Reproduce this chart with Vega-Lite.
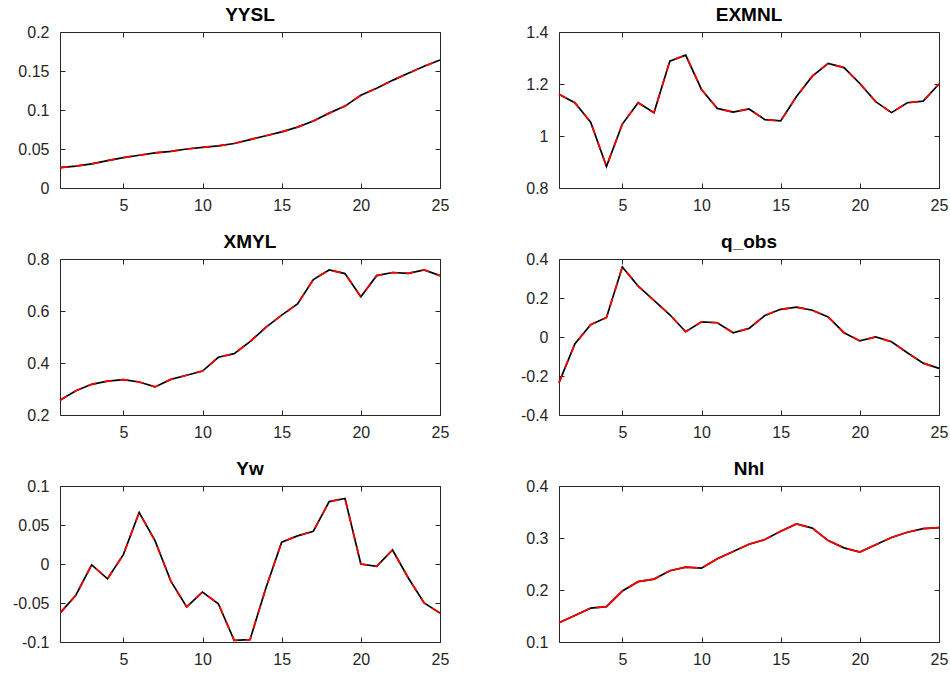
{
  "$schema": "https://vega.github.io/schema/vega-lite/v6.json",
  "background": "white",
  "padding": {"left": 12, "top": 5, "right": 5, "bottom": 5},
  "data": {"values": [
    {"t":1,"YYSL":0.026,"EXMNL":1.161,"XMYL":0.257,"q_obs":-0.234,"Yw":-0.063,"Nhl":0.137},
    {"t":2,"YYSL":0.028,"EXMNL":1.128,"XMYL":0.293,"q_obs":-0.036,"Yw":-0.040,"Nhl":0.151},
    {"t":3,"YYSL":0.031,"EXMNL":1.053,"XMYL":0.318,"q_obs":0.063,"Yw":-0.001,"Nhl":0.165},
    {"t":4,"YYSL":0.035,"EXMNL":0.883,"XMYL":0.330,"q_obs":0.100,"Yw":-0.019,"Nhl":0.168},
    {"t":5,"YYSL":0.039,"EXMNL":1.046,"XMYL":0.336,"q_obs":0.359,"Yw":0.012,"Nhl":0.198},
    {"t":6,"YYSL":0.042,"EXMNL":1.128,"XMYL":0.327,"q_obs":0.261,"Yw":0.066,"Nhl":0.216},
    {"t":7,"YYSL":0.045,"EXMNL":1.090,"XMYL":0.308,"q_obs":0.188,"Yw":0.030,"Nhl":0.221},
    {"t":8,"YYSL":0.047,"EXMNL":1.288,"XMYL":0.337,"q_obs":0.114,"Yw":-0.022,"Nhl":0.237},
    {"t":9,"YYSL":0.050,"EXMNL":1.311,"XMYL":0.353,"q_obs":0.027,"Yw":-0.055,"Nhl":0.244},
    {"t":10,"YYSL":0.052,"EXMNL":1.179,"XMYL":0.369,"q_obs":0.078,"Yw":-0.036,"Nhl":0.242},
    {"t":11,"YYSL":0.054,"EXMNL":1.106,"XMYL":0.422,"q_obs":0.073,"Yw":-0.051,"Nhl":0.260},
    {"t":12,"YYSL":0.057,"EXMNL":1.092,"XMYL":0.436,"q_obs":0.022,"Yw":-0.098,"Nhl":0.274},
    {"t":13,"YYSL":0.062,"EXMNL":1.104,"XMYL":0.482,"q_obs":0.044,"Yw":-0.097,"Nhl":0.288},
    {"t":14,"YYSL":0.067,"EXMNL":1.063,"XMYL":0.537,"q_obs":0.110,"Yw":-0.031,"Nhl":0.297},
    {"t":15,"YYSL":0.072,"EXMNL":1.058,"XMYL":0.584,"q_obs":0.142,"Yw":0.028,"Nhl":0.313},
    {"t":16,"YYSL":0.078,"EXMNL":1.152,"XMYL":0.627,"q_obs":0.153,"Yw":0.036,"Nhl":0.327},
    {"t":17,"YYSL":0.086,"EXMNL":1.230,"XMYL":0.721,"q_obs":0.137,"Yw":0.042,"Nhl":0.319},
    {"t":18,"YYSL":0.096,"EXMNL":1.279,"XMYL":0.758,"q_obs":0.103,"Yw":0.080,"Nhl":0.295},
    {"t":19,"YYSL":0.105,"EXMNL":1.263,"XMYL":0.744,"q_obs":0.022,"Yw":0.084,"Nhl":0.281},
    {"t":20,"YYSL":0.119,"EXMNL":1.202,"XMYL":0.655,"q_obs":-0.020,"Yw":0.000,"Nhl":0.273},
    {"t":21,"YYSL":0.128,"EXMNL":1.132,"XMYL":0.736,"q_obs":0.000,"Yw":-0.003,"Nhl":0.287},
    {"t":22,"YYSL":0.138,"EXMNL":1.090,"XMYL":0.748,"q_obs":-0.024,"Yw":0.018,"Nhl":0.301},
    {"t":23,"YYSL":0.147,"EXMNL":1.128,"XMYL":0.745,"q_obs":-0.081,"Yw":-0.018,"Nhl":0.311},
    {"t":24,"YYSL":0.156,"EXMNL":1.134,"XMYL":0.758,"q_obs":-0.134,"Yw":-0.050,"Nhl":0.318},
    {"t":25,"YYSL":0.164,"EXMNL":1.200,"XMYL":0.736,"q_obs":-0.161,"Yw":-0.063,"Nhl":0.320}
  ]},
  "columns": 2,
  "spacing": {"row": 71, "column": 119},
  "bounds": "flush",
  "config": {
    "font": "Liberation Sans",
    "view": {"stroke": "#262626", "strokeWidth": 1},
    "title": {"fontSize": 19, "fontWeight": "bold", "color": "#000000", "anchor": "middle", "offset": -1, "font": "Liberation Sans"},
    "axis": {"grid": false, "domain": false, "tickColor": "#262626", "tickSize": -5, "tickWidth": 1, "labelColor": "#262626", "labelFontSize": 16, "labelFont": "Liberation Sans", "labelFlush": false, "labelOverlap": false, "title": null},
    "axisX": {"labelPadding": 14},
    "axisY": {"labelPadding": 16}
  },
  "concat": [
    {"title": "YYSL", "width": 380, "height": 156,
     "layer": [
      {"mark": {"type": "line", "color": "black", "strokeWidth": 1.7},
       "encoding": {"x": {"field": "t", "type": "quantitative", "scale": {"domain": [1, 25]}, "axis": {"orient": "bottom", "values": [5,10,15,20,25]}},
                    "y": {"field": "YYSL", "type": "quantitative", "scale": {"domain": [0, 0.2]}, "axis": {"orient": "left", "values": [0,0.05,0.1,0.15,0.2], "labelExpr": "datum.value + ''"}}}},
      {"mark": {"type": "line", "color": "red", "strokeWidth": 1.7, "strokeDash": [8, 8]},
       "encoding": {"x": {"field": "t", "type": "quantitative", "scale": {"domain": [1, 25]}, "axis": {"orient": "top", "values": [5,10,15,20,25], "labels": false, "minExtent": 0, "maxExtent": 0}},
                    "y": {"field": "YYSL", "type": "quantitative", "scale": {"domain": [0, 0.2]}, "axis": {"orient": "right", "values": [0,0.05,0.1,0.15,0.2], "labels": false, "minExtent": 0, "maxExtent": 0}}}}
     ],
     "resolve": {"axis": {"x": "independent", "y": "independent"}}},
    {"title": "EXMNL", "width": 380, "height": 156,
     "layer": [
      {"mark": {"type": "line", "color": "black", "strokeWidth": 1.7},
       "encoding": {"x": {"field": "t", "type": "quantitative", "scale": {"domain": [1, 25]}, "axis": {"orient": "bottom", "values": [5,10,15,20,25]}},
                    "y": {"field": "EXMNL", "type": "quantitative", "scale": {"domain": [0.8, 1.4]}, "axis": {"orient": "left", "values": [0.8,1,1.2,1.4], "labelExpr": "datum.value + ''"}}}},
      {"mark": {"type": "line", "color": "red", "strokeWidth": 1.7, "strokeDash": [8, 8]},
       "encoding": {"x": {"field": "t", "type": "quantitative", "scale": {"domain": [1, 25]}, "axis": {"orient": "top", "values": [5,10,15,20,25], "labels": false, "minExtent": 0, "maxExtent": 0}},
                    "y": {"field": "EXMNL", "type": "quantitative", "scale": {"domain": [0.8, 1.4]}, "axis": {"orient": "right", "values": [0.8,1,1.2,1.4], "labels": false, "minExtent": 0, "maxExtent": 0}}}}
     ],
     "resolve": {"axis": {"x": "independent", "y": "independent"}}},
    {"title": "XMYL", "width": 380, "height": 156,
     "layer": [
      {"mark": {"type": "line", "color": "black", "strokeWidth": 1.7},
       "encoding": {"x": {"field": "t", "type": "quantitative", "scale": {"domain": [1, 25]}, "axis": {"orient": "bottom", "values": [5,10,15,20,25]}},
                    "y": {"field": "XMYL", "type": "quantitative", "scale": {"domain": [0.2, 0.8]}, "axis": {"orient": "left", "values": [0.2,0.4,0.6,0.8], "labelExpr": "datum.value + ''"}}}},
      {"mark": {"type": "line", "color": "red", "strokeWidth": 1.7, "strokeDash": [8, 8]},
       "encoding": {"x": {"field": "t", "type": "quantitative", "scale": {"domain": [1, 25]}, "axis": {"orient": "top", "values": [5,10,15,20,25], "labels": false, "minExtent": 0, "maxExtent": 0}},
                    "y": {"field": "XMYL", "type": "quantitative", "scale": {"domain": [0.2, 0.8]}, "axis": {"orient": "right", "values": [0.2,0.4,0.6,0.8], "labels": false, "minExtent": 0, "maxExtent": 0}}}}
     ],
     "resolve": {"axis": {"x": "independent", "y": "independent"}}},
    {"title": "q_obs", "width": 380, "height": 156,
     "layer": [
      {"mark": {"type": "line", "color": "black", "strokeWidth": 1.7},
       "encoding": {"x": {"field": "t", "type": "quantitative", "scale": {"domain": [1, 25]}, "axis": {"orient": "bottom", "values": [5,10,15,20,25]}},
                    "y": {"field": "q_obs", "type": "quantitative", "scale": {"domain": [-0.4, 0.4]}, "axis": {"orient": "left", "values": [-0.4,-0.2,0,0.2,0.4], "labelExpr": "datum.value + ''"}}}},
      {"mark": {"type": "line", "color": "red", "strokeWidth": 1.7, "strokeDash": [8, 8]},
       "encoding": {"x": {"field": "t", "type": "quantitative", "scale": {"domain": [1, 25]}, "axis": {"orient": "top", "values": [5,10,15,20,25], "labels": false, "minExtent": 0, "maxExtent": 0}},
                    "y": {"field": "q_obs", "type": "quantitative", "scale": {"domain": [-0.4, 0.4]}, "axis": {"orient": "right", "values": [-0.4,-0.2,0,0.2,0.4], "labels": false, "minExtent": 0, "maxExtent": 0}}}}
     ],
     "resolve": {"axis": {"x": "independent", "y": "independent"}}},
    {"title": "Yw", "width": 380, "height": 156,
     "layer": [
      {"mark": {"type": "line", "color": "black", "strokeWidth": 1.7, "clip": true},
       "encoding": {"x": {"field": "t", "type": "quantitative", "scale": {"domain": [1, 25]}, "axis": {"orient": "bottom", "values": [5,10,15,20,25]}},
                    "y": {"field": "Yw", "type": "quantitative", "scale": {"domain": [-0.1, 0.1]}, "axis": {"orient": "left", "values": [-0.1,-0.05,0,0.05,0.1], "labelExpr": "datum.value + ''"}}}},
      {"mark": {"type": "line", "color": "red", "strokeWidth": 1.7, "strokeDash": [8, 8], "clip": true},
       "encoding": {"x": {"field": "t", "type": "quantitative", "scale": {"domain": [1, 25]}, "axis": {"orient": "top", "values": [5,10,15,20,25], "labels": false, "minExtent": 0, "maxExtent": 0}},
                    "y": {"field": "Yw", "type": "quantitative", "scale": {"domain": [-0.1, 0.1]}, "axis": {"orient": "right", "values": [-0.1,-0.05,0,0.05,0.1], "labels": false, "minExtent": 0, "maxExtent": 0}}}}
     ],
     "resolve": {"axis": {"x": "independent", "y": "independent"}}},
    {"title": "Nhl", "width": 380, "height": 156,
     "layer": [
      {"mark": {"type": "line", "color": "black", "strokeWidth": 1.7},
       "encoding": {"x": {"field": "t", "type": "quantitative", "scale": {"domain": [1, 25]}, "axis": {"orient": "bottom", "values": [5,10,15,20,25]}},
                    "y": {"field": "Nhl", "type": "quantitative", "scale": {"domain": [0.1, 0.4]}, "axis": {"orient": "left", "values": [0.1,0.2,0.3,0.4], "labelExpr": "datum.value + ''"}}}},
      {"mark": {"type": "line", "color": "red", "strokeWidth": 1.7, "strokeDash": [34, 6]},
       "encoding": {"x": {"field": "t", "type": "quantitative", "scale": {"domain": [1, 25]}, "axis": {"orient": "top", "values": [5,10,15,20,25], "labels": false, "minExtent": 0, "maxExtent": 0}},
                    "y": {"field": "Nhl", "type": "quantitative", "scale": {"domain": [0.1, 0.4]}, "axis": {"orient": "right", "values": [0.1,0.2,0.3,0.4], "labels": false, "minExtent": 0, "maxExtent": 0}}}}
     ],
     "resolve": {"axis": {"x": "independent", "y": "independent"}}}
  ]
}
